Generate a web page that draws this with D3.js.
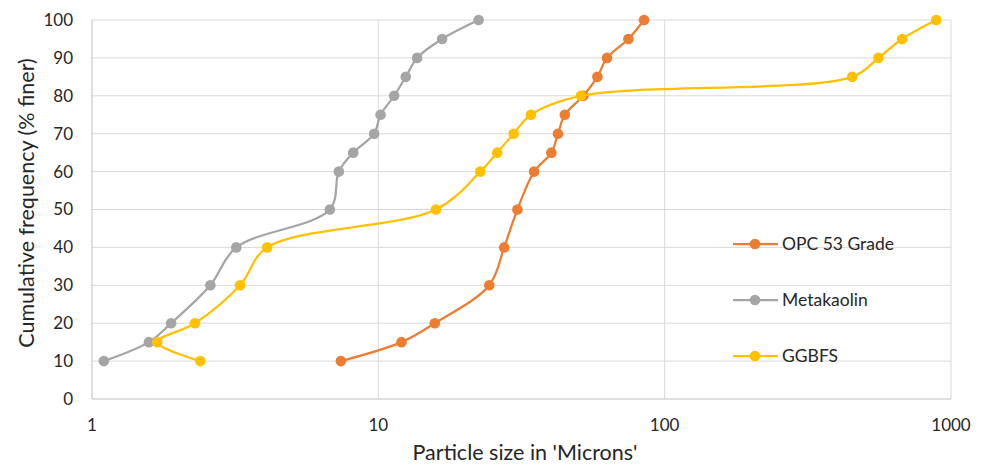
<!DOCTYPE html>
<html>
<head>
<meta charset="utf-8">
<script src="https://cdn.jsdelivr.net/npm/d3@7"></script>
<style>
  body { margin: 0; background: #fff; }
  text { font-family: Lato, "Open Sans", sans-serif; fill: #262626; }
</style>
</head>
<body>
<script>
// cumulative % finer (shared y values)
const opcFiner = [10, 15, 20, 30, 40, 50, 60, 65, 70, 75, 80, 85, 90, 95, 100];
const opcSize = [7.4, 12.05, 15.75, 24.4, 27.5, 30.6, 35.0, 40.2, 42.4, 44.8, 52, 58.2, 62.9, 74.7, 84.7];

const metaFiner = [10, 15, 20, 30, 40, 50, 60, 65, 70, 75, 80, 85, 90, 95, 100];
const metaSize = [1.1, 1.58, 1.89, 2.59, 3.19, 6.77, 7.28, 8.17, 9.67, 10.18, 11.36, 12.47, 13.66, 16.7, 22.4];

const ggbfsFiner = [10, 15, 20, 30, 40, 50, 60, 65, 70, 75, 80, 85, 90, 95, 100];
const ggbfsSize = [2.39, 1.69, 2.29, 3.29, 4.09, 15.9, 22.7, 26.0, 29.7, 34.1, 51, 452, 558, 675, 888];

const seriesNames = ['OPC 53 Grade', 'Metakaolin', 'GGBFS'];
const seriesColors = ['#ED7D31', '#A5A5A5', '#FFC000'];
const xTicks = [1, 10, 100, 1000];
const yTicks = d3.range(0, 101, 10);

const width = 986, height = 465;
const margin = {top: 20, right: 35, bottom: 66, left: 92};

const svg = d3.select('body')
  .append('svg')
  .attr('width', width)
  .attr('height', height);

const x = d3.scaleLog()
  .domain([1, 1000])
  .range([margin.left, width - margin.right]);

const y = d3.scaleLinear()
  .domain([0, 100])
  .range([height - margin.bottom, margin.top]);

// gridlines
svg.append('g')
  .selectAll('line')
  .data(yTicks.filter(d => d > 0))
  .join('line')
  .attr('x1', x(1)).attr('x2', x(1000))
  .attr('y1', d => y(d)).attr('y2', d => y(d))
  .attr('stroke', '#d9d9d9').attr('stroke-width', 1);

svg.append('g')
  .selectAll('line')
  .data(xTicks.filter(d => d > 1))
  .join('line')
  .attr('x1', d => x(d)).attr('x2', d => x(d))
  .attr('y1', y(0)).attr('y2', y(100))
  .attr('stroke', '#d9d9d9').attr('stroke-width', 1);

// axis lines
svg.append('line')
  .attr('x1', x(1)).attr('x2', x(1))
  .attr('y1', y(0)).attr('y2', y(100))
  .attr('stroke', '#bfbfbf');
svg.append('line')
  .attr('x1', x(1)).attr('x2', x(1000))
  .attr('y1', y(0)).attr('y2', y(0))
  .attr('stroke', '#bfbfbf');

// tick labels
svg.append('g')
  .selectAll('text')
  .data(yTicks)
  .join('text')
  .attr('x', x(1) - 19)
  .attr('y', d => y(d))
  .attr('dy', '0.35em')
  .attr('text-anchor', 'end')
  .style('font-size', '17px')
  .text(d => d);

svg.append('g')
  .selectAll('text')
  .data(xTicks)
  .join('text')
  .attr('x', d => x(d))
  .attr('y', y(0) + 26)
  .attr('dy', '0.35em')
  .attr('text-anchor', 'middle')
  .style('font-size', '17px')
  .text(d => d);

// axis titles
svg.append('text')
  .attr('x', 525)
  .attr('y', 452)
  .attr('dy', '0.35em')
  .attr('text-anchor', 'middle')
  .style('font-size', '21.5px')
  .text("Particle size in 'Microns'");

svg.append('text')
  .attr('transform', `translate(26,203) rotate(-90)`)
  .attr('dy', '0.35em')
  .attr('text-anchor', 'middle')
  .style('font-size', '21.5px')
  .text('Cumulative frequency (% finer)');

// series
const series = [
  {name: seriesNames[0], color: seriesColors[0], pts: opcSize.map((s, i) => [s, opcFiner[i]])},
  {name: seriesNames[1], color: seriesColors[1], pts: metaSize.map((s, i) => [s, metaFiner[i]])},
  {name: seriesNames[2], color: seriesColors[2], pts: ggbfsSize.map((s, i) => [s, ggbfsFiner[i]])}
];

const line = d3.line()
  .x(d => x(d[0]))
  .y(d => y(d[1]))
  .curve(d3.curveCatmullRom.alpha(0.5));

const sg = svg.append('g')
  .selectAll('g')
  .data(series)
  .join('g');

sg.append('path')
  .attr('d', d => line(d.pts))
  .attr('fill', 'none')
  .attr('stroke', d => d.color)
  .attr('stroke-width', 2.25);

sg.each(function(d) {
  d3.select(this).selectAll('circle')
    .data(d.pts)
    .join('circle')
    .attr('cx', p => x(p[0]))
    .attr('cy', p => y(p[1]))
    .attr('r', 5.3)
    .attr('fill', d.color);
});

// legend
const legendY = [244, 300, 356];
const lg = svg.append('g')
  .selectAll('g')
  .data(series)
  .join('g')
  .attr('transform', (d, i) => `translate(733,${legendY[i]})`);

lg.append('line')
  .attr('x1', 0).attr('x2', 45)
  .attr('stroke', d => d.color)
  .attr('stroke-width', 2.25);

lg.append('circle')
  .attr('cx', 22).attr('r', 5.3)
  .attr('fill', d => d.color);

lg.append('text')
  .attr('x', 49)
  .attr('dy', '0.35em')
  .style('font-size', '17.5px')
  .text(d => d.name);
</script>
</body>
</html>
